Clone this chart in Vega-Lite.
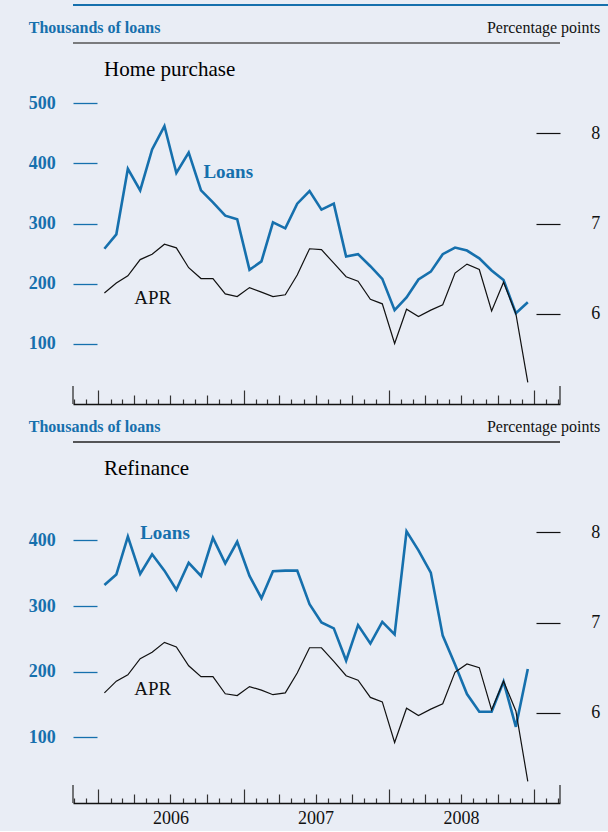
{
  "$schema": "https://vega.github.io/schema/vega-lite/v6.json",
  "padding": {"left": 28, "top": 4, "right": 0, "bottom": 0},
  "background": "#e9edf5",
  "spacing": 13,
  "config": {
    "view": {"stroke": null},
    "font": "Liberation Serif",
    "axis": {"grid": false}
  },
  "datasets": {
    "purchase": [
      {"date": "2006-01-16", "loans": 258, "apr": 6.23},
      {"date": "2006-02-15", "loans": 282, "apr": 6.34},
      {"date": "2006-03-16", "loans": 391, "apr": 6.42},
      {"date": "2006-04-16", "loans": 355, "apr": 6.60},
      {"date": "2006-05-16", "loans": 423, "apr": 6.66},
      {"date": "2006-06-16", "loans": 462, "apr": 6.77},
      {"date": "2006-07-16", "loans": 384, "apr": 6.73},
      {"date": "2006-08-16", "loans": 418, "apr": 6.51},
      {"date": "2006-09-16", "loans": 355, "apr": 6.39},
      {"date": "2006-10-16", "loans": 335, "apr": 6.39},
      {"date": "2006-11-16", "loans": 313, "apr": 6.22},
      {"date": "2006-12-16", "loans": 307, "apr": 6.19},
      {"date": "2007-01-16", "loans": 223, "apr": 6.29},
      {"date": "2007-02-15", "loans": 237, "apr": 6.24},
      {"date": "2007-03-16", "loans": 302, "apr": 6.19},
      {"date": "2007-04-16", "loans": 292, "apr": 6.21},
      {"date": "2007-05-16", "loans": 333, "apr": 6.43},
      {"date": "2007-06-16", "loans": 354, "apr": 6.72},
      {"date": "2007-07-16", "loans": 323, "apr": 6.71},
      {"date": "2007-08-16", "loans": 333, "apr": 6.56},
      {"date": "2007-09-16", "loans": 245, "apr": 6.41},
      {"date": "2007-10-16", "loans": 249, "apr": 6.36},
      {"date": "2007-11-16", "loans": 229, "apr": 6.16},
      {"date": "2007-12-16", "loans": 208, "apr": 6.11},
      {"date": "2008-01-16", "loans": 156, "apr": 5.67},
      {"date": "2008-02-15", "loans": 177, "apr": 6.05},
      {"date": "2008-03-16", "loans": 207, "apr": 5.97},
      {"date": "2008-04-16", "loans": 220, "apr": 6.04},
      {"date": "2008-05-16", "loans": 249, "apr": 6.10},
      {"date": "2008-06-16", "loans": 260, "apr": 6.45},
      {"date": "2008-07-16", "loans": 255, "apr": 6.55},
      {"date": "2008-08-16", "loans": 242, "apr": 6.49},
      {"date": "2008-09-16", "loans": 222, "apr": 6.03},
      {"date": "2008-10-16", "loans": 206, "apr": 6.35},
      {"date": "2008-11-16", "loans": 151, "apr": 6.00},
      {"date": "2008-12-16", "loans": 169, "apr": 5.24}
    ],
    "refinance": [
      {"date": "2006-01-16", "loans": 332, "apr": 6.22},
      {"date": "2006-02-15", "loans": 348, "apr": 6.35},
      {"date": "2006-03-16", "loans": 406, "apr": 6.42},
      {"date": "2006-04-16", "loans": 349, "apr": 6.60},
      {"date": "2006-05-16", "loans": 379, "apr": 6.67},
      {"date": "2006-06-16", "loans": 354, "apr": 6.78},
      {"date": "2006-07-16", "loans": 325, "apr": 6.73},
      {"date": "2006-08-16", "loans": 366, "apr": 6.52},
      {"date": "2006-09-16", "loans": 346, "apr": 6.40},
      {"date": "2006-10-16", "loans": 404, "apr": 6.40},
      {"date": "2006-11-16", "loans": 365, "apr": 6.21},
      {"date": "2006-12-16", "loans": 398, "apr": 6.19},
      {"date": "2007-01-16", "loans": 346, "apr": 6.29},
      {"date": "2007-02-15", "loans": 312, "apr": 6.25},
      {"date": "2007-03-16", "loans": 353, "apr": 6.20},
      {"date": "2007-04-16", "loans": 354, "apr": 6.22},
      {"date": "2007-05-16", "loans": 354, "apr": 6.44},
      {"date": "2007-06-16", "loans": 303, "apr": 6.72},
      {"date": "2007-07-16", "loans": 275, "apr": 6.72},
      {"date": "2007-08-16", "loans": 266, "apr": 6.57},
      {"date": "2007-09-16", "loans": 217, "apr": 6.41},
      {"date": "2007-10-16", "loans": 271, "apr": 6.36},
      {"date": "2007-11-16", "loans": 243, "apr": 6.17},
      {"date": "2007-12-16", "loans": 276, "apr": 6.12},
      {"date": "2008-01-16", "loans": 257, "apr": 5.67},
      {"date": "2008-02-15", "loans": 414, "apr": 6.05},
      {"date": "2008-03-16", "loans": 385, "apr": 5.97},
      {"date": "2008-04-16", "loans": 351, "apr": 6.04},
      {"date": "2008-05-16", "loans": 255, "apr": 6.10},
      {"date": "2008-06-16", "loans": 211, "apr": 6.45},
      {"date": "2008-07-16", "loans": 166, "apr": 6.54},
      {"date": "2008-08-16", "loans": 139, "apr": 6.50},
      {"date": "2008-09-16", "loans": 139, "apr": 6.03},
      {"date": "2008-10-16", "loans": 185, "apr": 6.35},
      {"date": "2008-11-16", "loans": 116, "apr": 6.02},
      {"date": "2008-12-16", "loans": 204, "apr": 5.24}
    ],
    "edges": [
      {"edge": "2005-10-29"},
      {"edge": "2009-03-07"}
    ]
  },
  "vconcat": [
    {
      "width": 580,
      "height": 2,
      "view": {"fill": "#1670ad", "stroke": null},
      "data": {"values": []},
      "mark": {"type": "rule"},
      "encoding": {}
    },
    {
      "width": 487,
      "height": 361,
      "data": {"name": "purchase"},
      "title": {"text": "Home purchase", "anchor": "start", "frame": "group", "dx": 31, "offset": -78, "baseline": "alphabetic", "font": "Liberation Serif", "fontSize": 21, "fontWeight": "normal", "color": "black"},
      "layer": [
        {
          "layer": [
            {
              "data": {"values": [{}]},
              "mark": {"type": "rule", "color": "#555555", "strokeWidth": 1.3},
              "encoding": {"y": {"datum": 600, "type": "quantitative"}}
            },
            {
              "data": {"name": "edges"},
              "mark": {"type": "rule", "color": "#222222", "strokeWidth": 1.2},
              "encoding": {
                "x": {"field": "edge", "type": "temporal", "scale": {"type": "utc"}},
                "y": {"datum": 0, "type": "quantitative"},
                "y2": {"datum": 30}
              }
            },
            {
              "mark": {"type": "line", "color": "#1670ad", "strokeWidth": 2.6},
              "encoding": {
                "x": {
                  "field": "date", "type": "temporal",
                  "scale": {"type": "utc", "nice": false, "domain": [{"year": 2005, "month": 10, "date": 29, "utc": true}, {"year": 2009, "month": 3, "date": 7, "utc": true}]},
                  "axis": {
                    "title": null, "orient": "bottom",
                    "tickCount": {"interval": "month", "step": 1},
                    "tickSize": {"condition": [{"test": "utcmonth(datum.value)==0", "value": -14}, {"test": "utcmonth(datum.value)%3==0", "value": -9}], "value": -5},
                    "tickColor": "#333333", "tickWidth": 1.2,
                    "domainColor": "#111111", "domainWidth": 1.4,
                    "labels": false
                  }
                },
                "y": {
                  "field": "loans", "type": "quantitative",
                  "scale": {"domain": [0, 600], "nice": false, "zero": false},
                  "axis": {
                    "orient": "left", "values": [100, 200, 300, 400, 500], "domain": false,
                    "tickSize": -24, "tickColor": "#1670ad", "tickWidth": 1.3,
                    "labelPadding": 41.7, "labelColor": "#1670ad", "labelFont": "Liberation Serif", "labelFontWeight": "bold", "labelFontSize": 18,
                    "title": "Thousands of loans", "titleAngle": 0, "titleX": -44.7, "titleY": -11, "titleAlign": "left", "titleBaseline": "alphabetic",
                    "titleFont": "Liberation Serif", "titleFontWeight": "bold", "titleFontSize": 16, "titleColor": "#1670ad"
                  }
                }
              }
            },
            {
              "data": {"values": [{"label": "Loans"}]},
              "mark": {"type": "text", "align": "left", "baseline": "alphabetic", "font": "Liberation Serif", "fontWeight": "bold", "fontSize": 19, "color": "#1670ad"},
              "encoding": {
                "x": {"datum": {"year": 2006, "month": 9, "date": 22, "utc": true}, "type": "temporal", "scale": {"type": "utc"}},
                "y": {"datum": 376, "type": "quantitative"},
                "text": {"field": "label"}
              }
            }
          ]
        },
        {
          "layer": [
            {
              "mark": {"type": "line", "color": "#111111", "strokeWidth": 1.2},
              "encoding": {
                "x": {"field": "date", "type": "temporal", "scale": {"type": "utc"}},
                "y": {
                  "field": "apr", "type": "quantitative",
                  "scale": {"domain": [5, 9], "nice": false, "zero": false},
                  "axis": {
                    "orient": "right", "values": [6, 7, 8], "format": "d", "domain": false,
                    "tickSize": -24, "tickColor": "#111111", "tickWidth": 1.2,
                    "labelPadding": 54.7, "labelColor": "#111111", "labelFont": "Liberation Serif", "labelFontSize": 18,
                    "title": "Percentage points", "titleAngle": 0, "titleX": 39.7, "titleY": -11, "titleAlign": "right", "titleBaseline": "alphabetic",
                    "titleFont": "Liberation Serif", "titleFontWeight": "normal", "titleFontSize": 16, "titleColor": "#111111"
                  }
                }
              }
            },
            {
              "data": {"values": [{"label": "APR"}]},
              "mark": {"type": "text", "align": "left", "baseline": "alphabetic", "font": "Liberation Serif", "fontSize": 19, "color": "#111111"},
              "encoding": {
                "x": {"datum": {"year": 2006, "month": 4, "date": 1, "utc": true}, "type": "temporal", "scale": {"type": "utc"}},
                "y": {"datum": 6.11, "type": "quantitative"},
                "text": {"field": "label"}
              }
            }
          ]
        }
      ],
      "resolve": {"scale": {"y": "independent"}}
    },
    {
      "width": 487,
      "height": 361,
      "data": {"name": "refinance"},
      "title": {"text": "Refinance", "anchor": "start", "frame": "group", "dx": 31, "offset": -78, "baseline": "alphabetic", "font": "Liberation Serif", "fontSize": 21, "fontWeight": "normal", "color": "black"},
      "layer": [
        {
          "layer": [
            {
              "data": {"values": [{}]},
              "mark": {"type": "rule", "color": "#222222", "strokeWidth": 1.3},
              "encoding": {"y": {"datum": 550, "type": "quantitative"}}
            },
            {
              "mark": {"type": "line", "color": "#1670ad", "strokeWidth": 2.6},
              "encoding": {
                "x": {
                  "field": "date", "type": "temporal",
                  "scale": {"type": "utc", "nice": false, "domain": [{"year": 2005, "month": 10, "date": 29, "utc": true}, {"year": 2009, "month": 3, "date": 7, "utc": true}]},
                  "axis": {
                    "title": null, "orient": "bottom",
                    "tickCount": {"interval": "month", "step": 1},
                    "tickSize": {"condition": [{"test": "utcmonth(datum.value)==0", "value": -14}, {"test": "utcmonth(datum.value)%3==0", "value": -9}], "value": -5},
                    "tickColor": "#333333", "tickWidth": 1.2,
                    "domainColor": "#111111", "domainWidth": 1.4,
                    "labelExpr": "utcmonth(datum.value)==6 ? utcFormat(datum.value, '%Y') : ''",
                    "labelOverlap": false, "labelFlush": false, "labelBound": false,
                    "labelPadding": 15, "labelBaseline": "top", "labelAlign": "center",
                    "labelFont": "Liberation Serif", "labelFontSize": 18, "labelColor": "#111111"
                  }
                },
                "y": {
                  "field": "loans", "type": "quantitative",
                  "scale": {"domain": [0, 550], "nice": false, "zero": false},
                  "axis": {
                    "orient": "left", "values": [100, 200, 300, 400], "domain": false,
                    "tickSize": -24, "tickColor": "#1670ad", "tickWidth": 1.3,
                    "labelPadding": 41.7, "labelColor": "#1670ad", "labelFont": "Liberation Serif", "labelFontWeight": "bold", "labelFontSize": 18,
                    "title": "Thousands of loans", "titleAngle": 0, "titleX": -44.7, "titleY": -11, "titleAlign": "left", "titleBaseline": "alphabetic",
                    "titleFont": "Liberation Serif", "titleFontWeight": "bold", "titleFontSize": 16, "titleColor": "#1670ad"
                  }
                }
              }
            },
            {
              "data": {"name": "edges"},
              "mark": {"type": "rule", "color": "#222222", "strokeWidth": 1.2},
              "encoding": {
                "x": {"field": "edge", "type": "temporal", "scale": {"type": "utc"}},
                "y": {"datum": 0, "type": "quantitative"},
                "y2": {"datum": 27.4}
              }
            },
            {
              "data": {"values": [{"label": "Loans"}]},
              "mark": {"type": "text", "align": "left", "baseline": "alphabetic", "font": "Liberation Serif", "fontWeight": "bold", "fontSize": 19, "color": "#1670ad"},
              "encoding": {
                "x": {"datum": {"year": 2006, "month": 4, "date": 16, "utc": true}, "type": "temporal", "scale": {"type": "utc"}},
                "y": {"datum": 402, "type": "quantitative"},
                "text": {"field": "label"}
              }
            }
          ]
        },
        {
          "layer": [
            {
              "mark": {"type": "line", "color": "#111111", "strokeWidth": 1.2},
              "encoding": {
                "x": {"field": "date", "type": "temporal", "scale": {"type": "utc"}},
                "y": {
                  "field": "apr", "type": "quantitative",
                  "scale": {"domain": [5, 9], "nice": false, "zero": false},
                  "axis": {
                    "orient": "right", "values": [6, 7, 8], "format": "d", "domain": false,
                    "tickSize": -24, "tickColor": "#111111", "tickWidth": 1.2,
                    "labelPadding": 54.7, "labelColor": "#111111", "labelFont": "Liberation Serif", "labelFontSize": 18,
                    "title": "Percentage points", "titleAngle": 0, "titleX": 39.7, "titleY": -11, "titleAlign": "right", "titleBaseline": "alphabetic",
                    "titleFont": "Liberation Serif", "titleFontWeight": "normal", "titleFontSize": 16, "titleColor": "#111111"
                  }
                }
              }
            },
            {
              "data": {"values": [{"label": "APR"}]},
              "mark": {"type": "text", "align": "left", "baseline": "alphabetic", "font": "Liberation Serif", "fontSize": 19, "color": "#111111"},
              "encoding": {
                "x": {"datum": {"year": 2006, "month": 4, "date": 1, "utc": true}, "type": "temporal", "scale": {"type": "utc"}},
                "y": {"datum": 6.2, "type": "quantitative"},
                "text": {"field": "label"}
              }
            }
          ]
        }
      ],
      "resolve": {"scale": {"y": "independent"}}
    }
  ]
}
